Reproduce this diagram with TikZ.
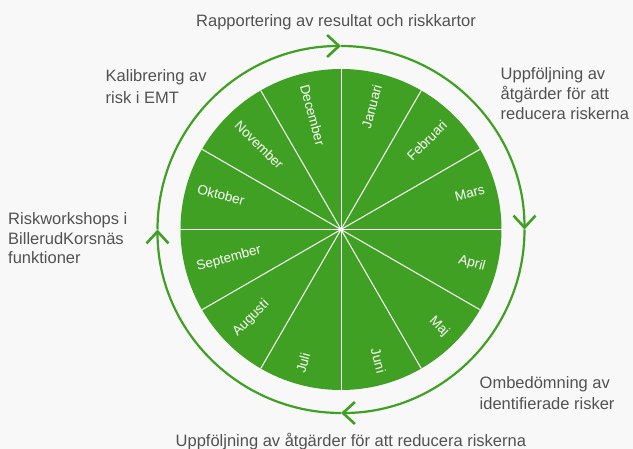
\documentclass[tikz,border=0pt]{standalone}
\usepackage{fontspec}
\setmainfont{Liberation Sans}
\usetikzlibrary{arrows.meta}
\definecolor{bg}{RGB}{248,248,248}
\definecolor{wgreen}{RGB}{64,160,35}
\definecolor{txt}{RGB}{82,82,82}
\begin{document}
\begin{tikzpicture}[x=1pt,y=1pt,
  lab/.style={anchor=base west, inner sep=0pt, text=txt, font=\fontsize{16.5}{20}\selectfont},
  month/.style={inner sep=0pt, text=white, font=\fontsize{13.5}{16}\selectfont},
  ring/.style={draw=wgreen, line width=2.2pt, -{Straight Barb[length=12pt,width=22pt,line width=0.4pt 1]}},
  spoke/.style={draw=white, line width=1pt}]
\useasboundingbox (0,0) rectangle (633,449);
\fill[bg] (0,0) rectangle (633,449);
\coordinate (c) at (341,219.5);
\begin{scope}[shift={(c)}]
  \fill[wgreen] (0,0) circle[radius=160.5];
  \foreach \a in {0,30,...,330} \draw[spoke] (0,0) -- (\a:160.5);
  \draw[ring] (180:183.5) arc[start angle=180, end angle=90, radius=183.5];
  \draw[ring] (90:183.5) arc[start angle=90, end angle=0, radius=183.5];
  \draw[ring] (0:183.5) arc[start angle=0, end angle=-90, radius=183.5];
  \draw[ring] (-90:183.5) arc[start angle=-90, end angle=-180, radius=183.5];
  \foreach \m/\a in {Januari/75, Februari/45, Mars/15, April/-15, Maj/-45, Juni/-75}
    \node[month, anchor=mid east, rotate=\a] (m\m) at (\a:149) {\m};
  \foreach \m/\a in {Juli/-105, Augusti/-135, September/-165, Oktober/165, November/135, December/105}
    \node[month, anchor=mid west, rotate=\a+180] (m\m) at (\a:149) {\m};
\end{scope}
\node[lab] (t1) at (196,422.3) {Rapportering av resultat och riskkartor};
\node[lab] (k1) at (105.5,367.7) {Kalibrering av};
\node[lab] (k2) at (105.5,345.7) {risk i EMT};
\node[lab] (u1) at (500.5,369) {Uppföljning av};
\node[lab] (u2) at (500.5,349) {åtgärder för att};
\node[lab] (u3) at (500.5,329) {reducera riskerna};
\node[lab] (r1) at (8,224) {Riskworkshops i};
\node[lab] (r2) at (8,204.7) {BillerudKorsnäs};
\node[lab] (r3) at (8,185.7) {funktioner};
\node[lab] (o1) at (479.5,60) {Ombedömning av};
\node[lab] (o2) at (479.5,39) {identifierade risker};
\node[lab] (b1) at (175.5,2.3) {Uppföljning av åtgärder för att reducera riskerna};
\end{tikzpicture}
\end{document}
